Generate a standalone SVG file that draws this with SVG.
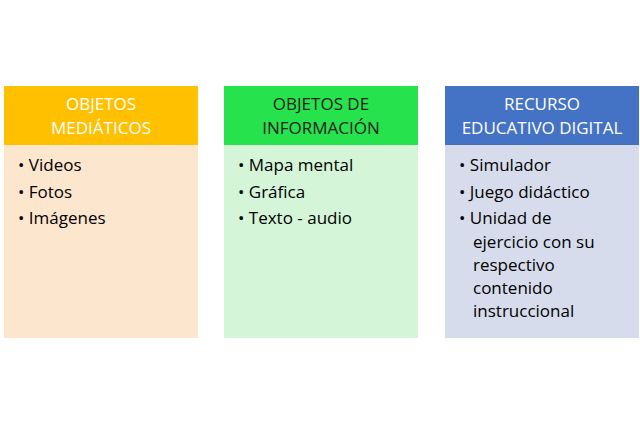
<svg xmlns="http://www.w3.org/2000/svg" width="640" height="424" viewBox="0 0 640 424">
<style>
text{font-family:"Open Sans","Liberation Sans",sans-serif;font-size:17px;fill:#000}
.h{text-anchor:middle;fill:#fff}
.hd{text-anchor:middle;fill:#222}
</style>
<rect width="640" height="424" fill="#fff"/>
<g id="col1">
<rect x="4" y="86" width="194" height="59" fill="#FFC000"/>
<rect x="4" y="145" width="194" height="193" fill="#FDE6CE"/>
<text class="h" x="101" y="110">OBJETOS</text>
<text class="h" x="101" y="134">MEDIÁTICOS</text>
<text x="18" y="171">•  Videos</text>
<text x="18" y="198">•  Fotos</text>
<text x="18" y="224">•  Imágenes</text>
</g>
<g id="col2">
<rect x="224" y="86" width="194" height="59" fill="#26E24C"/>
<rect x="224" y="145" width="194" height="193" fill="#D4F5D8"/>
<text class="hd" x="321" y="110">OBJETOS DE</text>
<text class="hd" x="321" y="134">INFORMACIÓN</text>
<text x="238" y="171">•  Mapa mental</text>
<text x="238" y="198">•  Gráfica</text>
<text x="238" y="224">•  Texto - audio</text>
</g>
<g id="col3">
<rect x="445" y="86" width="194" height="59" fill="#4472C4"/>
<rect x="445" y="145" width="194" height="193" fill="#D6DCEB"/>
<text class="h" x="542" y="110">RECURSO</text>
<text class="h" x="542" y="134">EDUCATIVO DIGITAL</text>
<text x="459" y="171">•  Simulador</text>
<text x="459" y="198">•  Juego didáctico</text>
<text x="459" y="224">•  Unidad de</text>
<text x="473" y="248">ejercicio con su</text>
<text x="473" y="271">respectivo</text>
<text x="473" y="294">contenido</text>
<text x="473" y="317">instruccional</text>
</g>
<g id="connectors"/>
</svg>
